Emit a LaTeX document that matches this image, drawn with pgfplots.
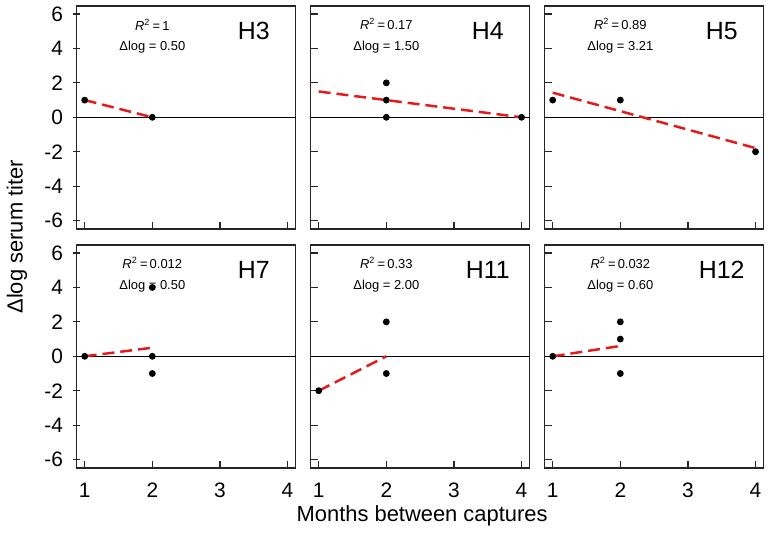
\documentclass[border=0pt]{standalone}
\usepackage{fontspec}
\setmainfont{Liberation Sans}
\usepackage{pgfplots}
\pgfplotsset{compat=1.18}
\usepgfplotslibrary{groupplots}
\definecolor{fitred}{RGB}{228,26,28}
\newcommand{\annot}[2]{%
  \node[font=\fontsize{6.5}{7}\selectfont] at (axis cs:2,5.4) {\textit{R}\textsuperscript{2}\,=\,#1};
  \node[font=\fontsize{6.5}{7}\selectfont] at (axis cs:2,4.05) {Δlog = #2};}
\newcommand{\plabel}[1]{\node[font=\fontsize{12.5}{14}\selectfont] at (axis cs:3.5,5.0) {#1};}
\newcommand{\zeroline}{\draw[black, line width=0.5pt] (rel axis cs:0,0.5) -- (rel axis cs:1,0.5);}
\begin{document}
\begin{tikzpicture}
\begin{groupplot}[
  group style={group size=3 by 2, horizontal sep=7.5pt, vertical sep=8pt,
    xticklabels at=edge bottom, yticklabels at=edge left},
  scale only axis, width=110pt, height=112pt,
  xmin=0.88, xmax=4.12, ymin=-6.48, ymax=6.48,
  xtick={1,2,3,4}, ytick={-6,-4,-2,0,2,4,6},
  tick pos=left, tick align=inside, major tick length=3.5pt,
  axis line style={line width=0.75pt, black!85},
  every tick/.style={black!85, line width=0.6pt},
  tick label style={font=\fontsize{10.5}{12}\selectfont},
  /pgf/number format/assume math mode=true,
  xticklabel style={yshift=-4pt},
  yticklabel style={xshift=-1.5pt},
  clip=false,
]
\nextgroupplot[ytick align=center]
\zeroline
\addplot[fitred, line width=1.25pt, dash pattern=on 6pt off 3pt, no marks] coordinates {(1,1) (2,0)};
\addplot[only marks, mark=*, mark size=1.5pt, black] coordinates {(1,1) (2,0)};
\annot{1}{0.50}
\plabel{H3}
\nextgroupplot
\zeroline
\addplot[fitred, line width=1.25pt, dash pattern=on 6pt off 3pt, no marks] coordinates {(1,1.5) (4,0)};
\addplot[only marks, mark=*, mark size=1.5pt, black] coordinates {(2,2) (2,1) (2,0) (4,0)};
\annot{0.17}{1.50}
\plabel{H4}
\nextgroupplot
\zeroline
\addplot[fitred, line width=1.25pt, dash pattern=on 6pt off 3pt, no marks] coordinates {(1,1.43) (4,-1.79)};
\addplot[only marks, mark=*, mark size=1.5pt, black] coordinates {(1,1) (2,1) (4,-2)};
\annot{0.89}{3.21}
\plabel{H5}
\nextgroupplot[ytick align=center]
\zeroline
\addplot[fitred, line width=1.25pt, dash pattern=on 6pt off 3pt, no marks] coordinates {(1,0) (2,0.5)};
\annot{0.012}{0.50}
\addplot[only marks, mark=*, mark size=1.5pt, black] coordinates {(1,0) (2,0) (2,-1) (2,4)};
\plabel{H7}
\nextgroupplot
\zeroline
\addplot[fitred, line width=1.25pt, dash pattern=on 6pt off 3pt, no marks] coordinates {(1,-2) (2,0)};
\addplot[only marks, mark=*, mark size=1.5pt, black] coordinates {(1,-2) (2,2) (2,-1)};
\annot{0.33}{2.00}
\plabel{H11}
\nextgroupplot
\zeroline
\addplot[fitred, line width=1.25pt, dash pattern=on 6pt off 3pt, no marks] coordinates {(1,0) (2,0.6)};
\addplot[only marks, mark=*, mark size=1.5pt, black] coordinates {(1,0) (2,2) (2,1) (2,-1)};
\annot{0.032}{0.60}
\plabel{H12}
\end{groupplot}
\path (group c1r1.north west) ++(-37.5pt,0.4pt) coordinate (bbA);
\path (group c1r1.north west) ++(346.5pt,-264.5pt) coordinate (bbB);
\path (bbA) rectangle (bbB);
\node[rotate=90, font=\fontsize{11}{13}\selectfont] at ([xshift=-30pt,yshift=-116pt]group c1r1.north west) {Δlog serum titer};
\node[font=\fontsize{11}{13}\selectfont] at ([xshift=173.5pt,yshift=-256pt]group c1r1.north west) {Months between captures};
\end{tikzpicture}
\end{document}
